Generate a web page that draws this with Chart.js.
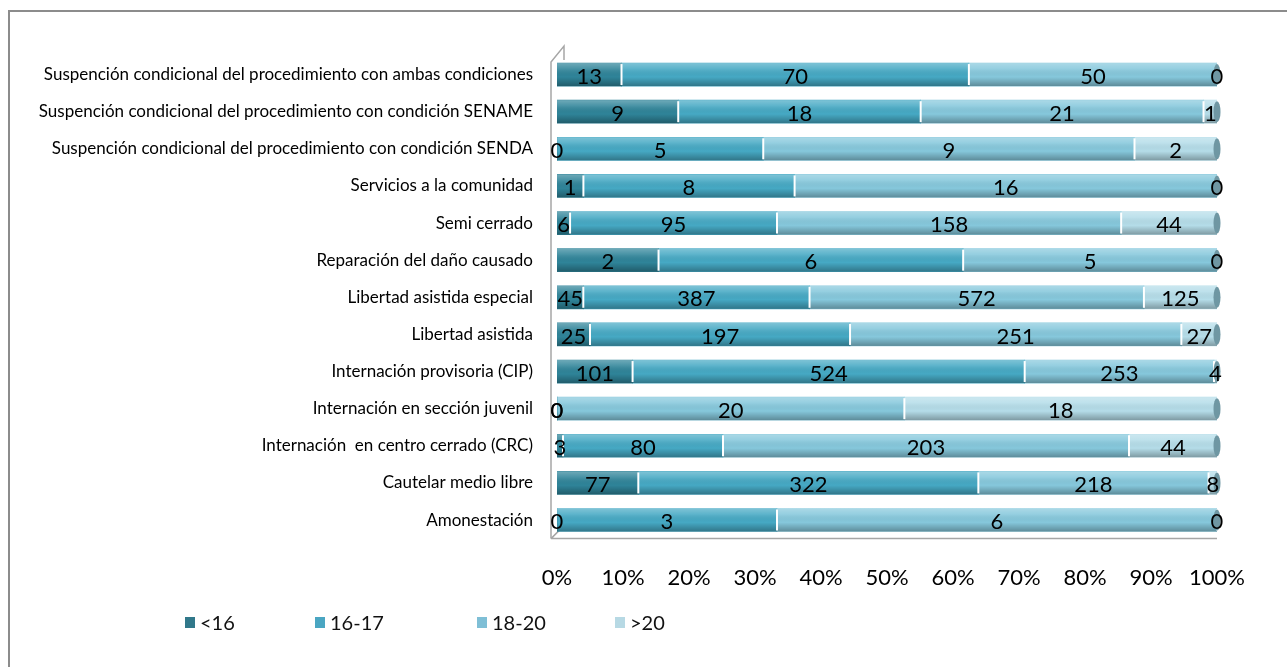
<!DOCTYPE html>
<html>
<head>
<meta charset="utf-8">
<script src="https://cdn.jsdelivr.net/npm/chart.js@4.4.0/dist/chart.umd.min.js"></script>
<style>
  html, body { margin: 0; padding: 0; background: #fff; }
  body { width: 1287px; height: 667px; position: relative; overflow: hidden; font-family: Lato, "Open Sans", sans-serif; }
  .frame { position: absolute; left: 8px; top: 10px; width: 1300px; height: 680px; border: 2px solid #8c8c8c; box-sizing: border-box; }
  #chartBox { position: absolute; left: 0; top: 0; width: 1287px; height: 667px; }
  .legend { position: absolute; top: 610px; left: 0; height: 24px; }
  .legend span.item { position: absolute; display: flex; align-items: center; font-size: 20px; color: #111; white-space: nowrap; }
  .legend i { display: inline-block; width: 10px; height: 11px; margin-right: 5px; }
</style>
</head>
<body>
<div class="frame"></div>
<div id="chartBox"><canvas id="ageChart" width="1287" height="667"></canvas></div>
<div class="legend" id="legend"></div>
<script>
const categories = [
  'Suspención condicional del procedimiento con ambas condiciones',
  'Suspención condicional del procedimiento con condición SENAME',
  'Suspención condicional del procedimiento con condición SENDA',
  'Servicios a la comunidad',
  'Semi cerrado',
  'Reparación del daño causado',
  'Libertad asistida especial',
  'Libertad asistida',
  'Internación provisoria (CIP)',
  'Internación en sección juvenil',
  'Internación  en centro cerrado (CRC)',
  'Cautelar medio libre',
  'Amonestación'
];
const seriesNames = ['<16', '16-17', '18-20', '>20'];
const under16 = [13, 9, 0, 1, 6, 2, 45, 25, 101, 0, 3, 77, 0];
const age16to17 = [70, 18, 5, 8, 95, 6, 387, 197, 524, 0, 80, 322, 3];
const age18to20 = [50, 21, 9, 16, 158, 5, 572, 251, 253, 20, 203, 218, 6];
const over20 = [0, 1, 2, 0, 44, 0, 125, 27, 4, 18, 44, 8, 0];
const xTicks = [0, 10, 20, 30, 40, 50, 60, 70, 80, 90, 100];

const barColors = ['#2F8499', '#46A9C4', '#86C8DC', '#B5DDE9'];
const legendColors = ['#31788A', '#4AA6C2', '#7FBFD6', '#B7D9E4'];

const rawSeries = [under16, age16to17, age18to20, over20];
const totals = categories.map((_, j) => rawSeries.reduce((s, arr) => s + arr[j], 0));
const pctSeries = rawSeries.map(arr => arr.map((v, j) => v / totals[j] * 100));

// back wall + floor of the fake 3D plot
const wallPlugin = {
  id: 'wall',
  beforeDatasetsDraw(chart) {
    const { ctx, chartArea } = chart;
    const x0 = chartArea.left - 6;
    ctx.save();
    ctx.strokeStyle = '#a6a6a6';
    ctx.lineWidth = 1.5;
    ctx.beginPath();
    ctx.moveTo(x0, chartArea.bottom);
    ctx.lineTo(x0, chartArea.top + 6);
    ctx.lineTo(x0 + 13, chartArea.top - 10);
    ctx.lineTo(x0 + 13, chartArea.top + 4);
    ctx.stroke();
    ctx.beginPath();
    ctx.moveTo(x0, chartArea.bottom);
    ctx.lineTo(x0 + 12, chartArea.bottom - 12);
    ctx.moveTo(x0, chartArea.bottom);
    ctx.lineTo(chartArea.right, chartArea.bottom);
    ctx.stroke();
    ctx.restore();
  }
};

// cylinder shading, white separators, end caps and value labels
const barDecor = {
  id: 'barDecor',
  afterDatasetsDraw(chart) {
    const { ctx } = chart;
    const xs = chart.scales.x;
    const left = xs.getPixelForValue(0);
    const right = xs.getPixelForValue(100);
    const firstMeta = chart.getDatasetMeta(0);
    ctx.save();
    firstMeta.data.forEach((bar, j) => {
      const { y, height } = bar.getProps(['y', 'height'], true);
      const top = y - height / 2;
      const g = ctx.createLinearGradient(0, top, 0, top + height);
      g.addColorStop(0, 'rgba(255,255,255,0.30)');
      g.addColorStop(0.25, 'rgba(255,255,255,0.12)');
      g.addColorStop(0.6, 'rgba(0,0,0,0)');
      g.addColorStop(1, 'rgba(0,0,0,0.30)');
      ctx.fillStyle = g;
      ctx.fillRect(left, top, right - left, height);
      // separators
      ctx.strokeStyle = '#ffffff';
      ctx.lineWidth = 2;
      let cum = 0;
      for (let i = 0; i < rawSeries.length - 1; i++) {
        cum += pctSeries[i][j];
        const rest = 100 - cum;
        if (cum > 0 && rest > 0 && pctSeries[i][j] > 0) {
          const px = xs.getPixelForValue(cum);
          ctx.beginPath();
          ctx.moveTo(px, top + 1);
          ctx.lineTo(px, top + height - 1);
          ctx.stroke();
        }
      }
      // right end cap
      ctx.fillStyle = '#6f97a3';
      ctx.beginPath();
      ctx.ellipse(right, y, 3.5, height / 2 - 1, 0, 0, Math.PI * 2);
      ctx.fill();
    });
    // labels
    ctx.fillStyle = '#000';
    ctx.font = '22px Lato, "Open Sans", sans-serif';
    ctx.textAlign = 'center';
    ctx.textBaseline = 'middle';
    rawSeries.forEach((arr, i) => {
      chart.getDatasetMeta(i).data.forEach((bar, j) => {
        const { x, y, base } = bar.getProps(['x', 'y', 'base'], true);
        ctx.fillText(String(arr[j]), (x + base) / 2, y + 2);
      });
    });
    ctx.restore();
  }
};

new Chart(document.getElementById('ageChart'), {
  type: 'bar',
  data: {
    labels: categories,
    datasets: seriesNames.map((name, i) => ({
      label: name,
      data: pctSeries[i],
      backgroundColor: barColors[i],
      borderWidth: 0,
      barThickness: 23
    }))
  },
  options: {
    indexAxis: 'y',
    responsive: false,
    animation: false,
    layout: { padding: { top: 56, right: 70, bottom: 50, left: 0 } },
    plugins: {
      legend: { display: false },
      tooltip: { enabled: false }
    },
    scales: {
      x: {
        stacked: true,
        min: 0,
        max: 100,
        afterBuildTicks(axis) { axis.ticks = xTicks.map(v => ({ value: v })); },
        grid: { display: false, drawTicks: false },
        border: { display: false },
        ticks: {
          padding: 26,
          color: '#000',
          font: { family: 'Lato, "Open Sans", sans-serif', size: 22 },
          callback: (v) => v + '%'
        }
      },
      y: {
        stacked: true,
        afterFit(axis) { axis.width = 557; },
        grid: { display: false, drawTicks: false },
        border: { display: false },
        ticks: {
          padding: 24,
          color: '#000',
          autoSkip: false,
          font: { family: 'Lato, "Open Sans", sans-serif', size: 17 }
        }
      }
    }
  },
  plugins: [wallPlugin, barDecor]
});

const legendEl = document.getElementById('legend');
const legendX = [185, 315, 477, 615];
seriesNames.forEach((name, i) => {
  const item = document.createElement('span');
  item.className = 'item';
  item.style.left = legendX[i] + 'px';
  item.innerHTML = '<i style="background:' + legendColors[i] + '"></i>';
  item.appendChild(document.createTextNode(name));
  legendEl.appendChild(item);
});
</script>
</body>
</html>
